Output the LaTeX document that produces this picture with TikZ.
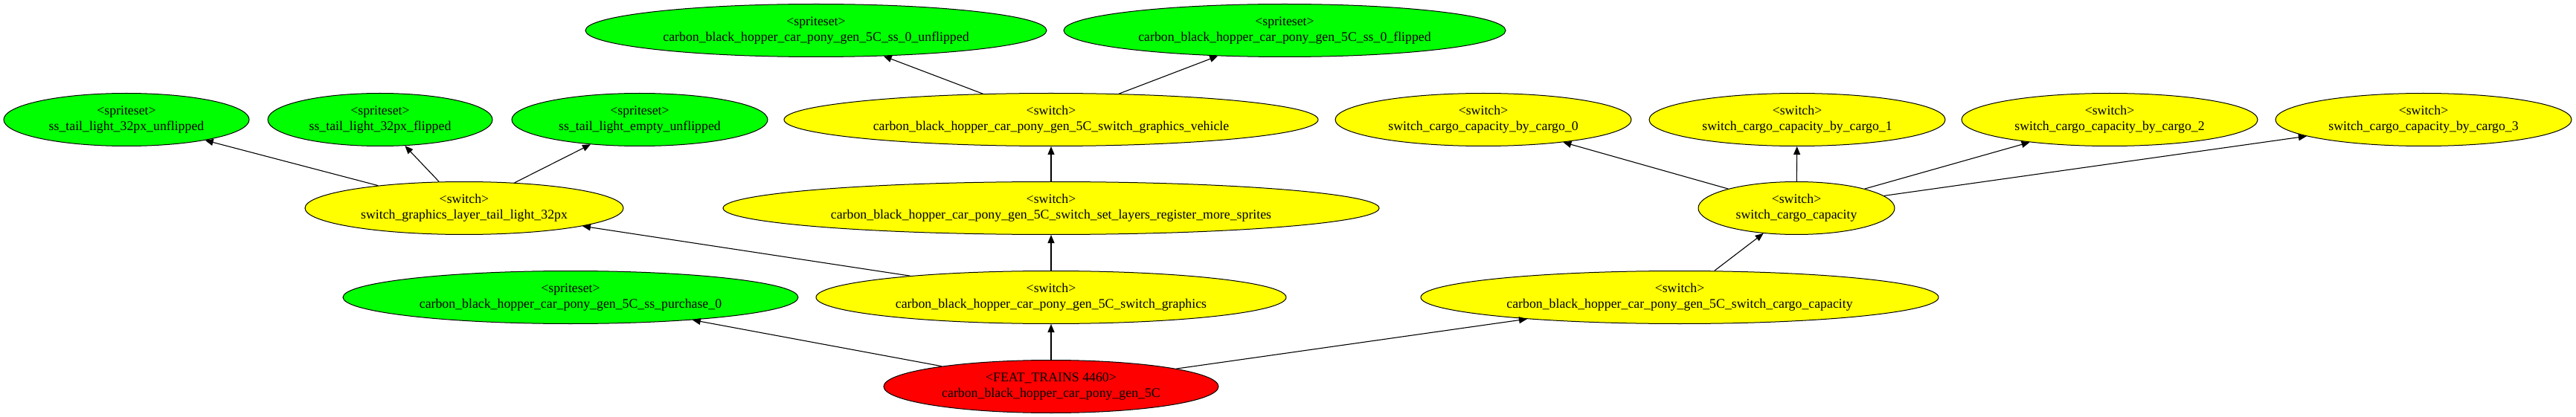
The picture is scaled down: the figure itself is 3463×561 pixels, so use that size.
\documentclass[tikz,border=0pt]{standalone}
\usepackage{fontspec}
\setmainfont{Liberation Serif}
\usetikzlibrary{shapes.geometric,arrows.meta}
\definecolor{gvgreen}{RGB}{0,255,0}
\definecolor{gvyellow}{RGB}{255,255,0}
\definecolor{gvred}{RGB}{255,0,0}
\tikzset{
  gnode/.style={ellipse, draw=black, line width=1pt, inner sep=0pt, align=center,
    font=\fontsize{17.8}{21}\selectfont, minimum height=71pt},
  sprite/.style={gnode, fill=gvgreen},
  sw/.style={gnode, fill=gvyellow},
  feat/.style={gnode, fill=gvred},
  edge/.style={-{Triangle[length=11pt,width=9pt]}, line width=1.1pt},
}
\begin{document}
\begin{tikzpicture}[x=1pt,y=-1pt]
\useasboundingbox (0,0) rectangle (3463,561);
% row 1
\node[sprite, minimum width=620pt] (u0) at (1097,41) {<spriteset>\\carbon\_black\_hopper\_car\_pony\_gen\_5C\_ss\_0\_unflipped};
\node[sprite, minimum width=594pt] (f0) at (1727,41) {<spriteset>\\carbon\_black\_hopper\_car\_pony\_gen\_5C\_ss\_0\_flipped};
% row 2
\node[sprite, minimum width=330pt] (tu) at (170,161) {<spriteset>\\ss\_tail\_light\_32px\_unflipped};
\node[sprite, minimum width=302pt] (tf) at (511,161) {<spriteset>\\ss\_tail\_light\_32px\_flipped};
\node[sprite, minimum width=344pt] (te) at (860,161) {<spriteset>\\ss\_tail\_light\_empty\_unflipped};
\node[sw, minimum width=718pt] (veh) at (1413,161) {<switch>\\carbon\_black\_hopper\_car\_pony\_gen\_5C\_switch\_graphics\_vehicle};
\node[sw, minimum width=398pt] (b0) at (1994,161) {<switch>\\switch\_cargo\_capacity\_by\_cargo\_0};
\node[sw, minimum width=398pt] (b1) at (2416,161) {<switch>\\switch\_cargo\_capacity\_by\_cargo\_1};
\node[sw, minimum width=398pt] (b2) at (2836,161) {<switch>\\switch\_cargo\_capacity\_by\_cargo\_2};
\node[sw, minimum width=398pt] (b3) at (3258,161) {<switch>\\switch\_cargo\_capacity\_by\_cargo\_3};
% row 3
\node[sw, minimum width=428pt] (tl) at (624,280) {<switch>\\switch\_graphics\_layer\_tail\_light\_32px};
\node[sw, minimum width=882pt] (sl) at (1413,280) {<switch>\\carbon\_black\_hopper\_car\_pony\_gen\_5C\_switch\_set\_layers\_register\_more\_sprites};
\node[sw, minimum width=264pt] (scc) at (2415,280) {<switch>\\switch\_cargo\_capacity};
% row 4
\node[sprite, minimum width=612pt] (pu) at (767,400) {<spriteset>\\carbon\_black\_hopper\_car\_pony\_gen\_5C\_ss\_purchase\_0};
\node[sw, minimum width=632pt] (sg) at (1413,400) {<switch>\\carbon\_black\_hopper\_car\_pony\_gen\_5C\_switch\_graphics};
\node[sw, minimum width=696pt] (cc) at (2258,400) {<switch>\\carbon\_black\_hopper\_car\_pony\_gen\_5C\_switch\_cargo\_capacity};
% row 5
\node[feat, minimum width=450pt] (ft) at (1413,520) {<FEAT\_TRAINS 4460>\\carbon\_black\_hopper\_car\_pony\_gen\_5C};
% edges
\draw[edge] (ft) -- (pu);
\draw[edge] (ft) -- (sg);
\draw[edge] (ft) -- (cc);
\draw[edge] (sg) -- (tl);
\draw[edge] (sg) -- (sl);
\draw[edge] (sl) -- (veh);
\draw[edge] (veh) -- (u0);
\draw[edge] (veh) -- (f0);
\draw[edge] (tl) -- (tu);
\draw[edge] (tl) -- (tf);
\draw[edge] (tl) -- (te);
\draw[edge] (cc) -- (scc);
\draw[edge] (scc) -- (b0);
\draw[edge] (scc) -- (b1);
\draw[edge] (scc) -- (b2);
\draw[edge] (scc) -- (b3);
\end{tikzpicture}
\end{document}
